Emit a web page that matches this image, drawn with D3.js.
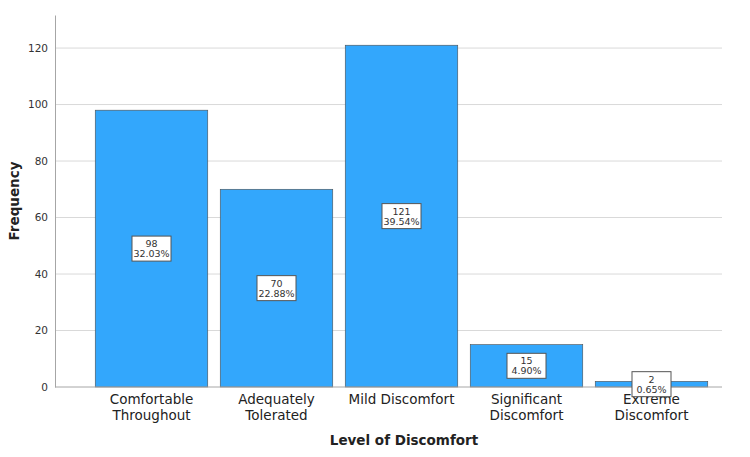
<!DOCTYPE html>
<html><head><meta charset="utf-8">
<script src="https://cdn.jsdelivr.net/npm/d3@7"></script>
<style>body{margin:0;background:#fff;}svg{display:block;font-family:"DejaVu Sans",sans-serif;}</style>
</head><body>
<svg id="c" width="750" height="457"></svg>
<script>
const categories = [["Comfortable","Throughout"],["Adequately","Tolerated"],["Mild Discomfort"],["Significant","Discomfort"],["Extreme","Discomfort"]];
const counts = [98, 70, 121, 15, 2];
const percents = ["32.03%","22.88%","39.54%","4.90%","0.65%"];
const yTicks = [0,20,40,60,80,100,120];

const svg = d3.select("#c");
const keys = categories.map(c=>c.join(" "));
const x = d3.scaleBand().domain(keys).range([89,714]).paddingInner(0.1).paddingOuter(0.05);
const y = d3.scaleLinear().domain([0,131.7]).range([387,15]);

// gridlines
svg.append("g").selectAll("line").data(yTicks.filter(d=>d>0)).join("line")
  .attr("x1",55).attr("x2",722).attr("y1",d=>y(d)).attr("y2",d=>y(d))
  .attr("stroke","#d9d9d9").attr("stroke-width",1);

// y axis
const ya = svg.append("g").attr("transform","translate(55,0)")
  .call(d3.axisLeft(y).tickValues(yTicks).tickSize(0).tickPadding(7));
ya.select(".domain").attr("stroke","#a6a6a6");
ya.selectAll("text").attr("fill","#333").style("font-size","10.5px").style("font-family","DejaVu Sans");

// bars
svg.append("g").selectAll("rect").data(counts).join("rect")
  .attr("x",(d,i)=>x(keys[i])).attr("width",x.bandwidth())
  .attr("y",d=>y(d)).attr("height",d=>y(0)-y(d))
  .attr("fill","#33a7fc").attr("stroke","#4d4d4d").attr("stroke-width",0.6);

// x baseline
svg.append("line").attr("x1",55).attr("x2",722).attr("y1",y(0)).attr("y2",y(0)).attr("stroke","#a6a6a6");

// x tick labels
const xl = svg.append("g").selectAll("text").data(categories).join("text")
  .attr("x",(d,i)=>x(keys[i])+x.bandwidth()/2).attr("y",404)
  .attr("text-anchor","middle").attr("fill","#222").style("font-size","13.5px");
xl.selectAll("tspan").data(d=>d).join("tspan")
  .attr("x",function(){return this.parentNode.getAttribute("x");})
  .attr("dy",(d,i)=>i===0?0:16).text(d=>d);

// data labels
const lg = svg.append("g").selectAll("g").data(counts).join("g")
  .attr("transform",(d,i)=>`translate(${x(keys[i])+x.bandwidth()/2},${(y(0)+y(d))/2})`);
lg.append("rect").attr("x",-19.5).attr("y",-12.5).attr("width",39).attr("height",25)
  .attr("fill","#fff").attr("stroke","#555").attr("stroke-width",1);
lg.append("text").attr("text-anchor","middle").attr("y",-1.5).style("font-size","9.5px").attr("fill","#333").text(d=>d);
lg.append("text").attr("text-anchor","middle").attr("y",8.5).style("font-size","9.5px").attr("fill","#333").text((d,i)=>percents[i]);

// axis titles
svg.append("text").attr("x",404).attr("y",445).attr("text-anchor","middle")
  .style("font-size","13.5px").style("font-weight","bold").attr("fill","#222").text("Level of Discomfort");
svg.append("text").attr("transform","translate(19,201) rotate(-90)").attr("text-anchor","middle")
  .style("font-size","13.5px").style("font-weight","bold").attr("fill","#222").text("Frequency");
</script>
</body></html>
